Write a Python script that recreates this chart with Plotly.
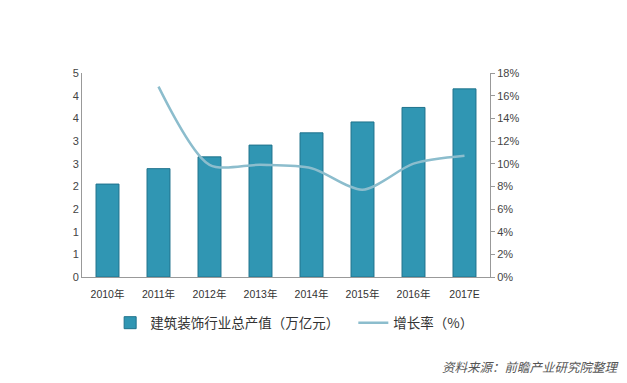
import plotly.graph_objects as go

categories = ["2010年", "2011年", "2012年", "2013年", "2014年", "2015年", "2016年", "2017E"]
output_values = [2.05, 2.39, 2.65, 2.91, 3.18, 3.42, 3.74, 4.15]
growth_categories = ["2011年", "2012年", "2013年", "2014年", "2015年", "2016年", "2017E"]
growth_values = [16.8, 9.9, 9.9, 9.6, 7.7, 10.0, 10.7]
left_tickvals = [0, 0.5, 1, 1.5, 2, 2.5, 3, 3.5, 4, 4.5]
left_ticktext = ["0", "1", "1", "2", "2", "3", "3", "4", "4", "5"]
right_tickvals = [0, 2, 4, 6, 8, 10, 12, 14, 16, 18]
right_ticktext = ["0%", "2%", "4%", "6%", "8%", "10%", "12%", "14%", "16%", "18%"]
bar_name = "建筑装饰行业总产值（万亿元）"
line_name = "增长率（%）"
source_text = "资料来源：前瞻产业研究院整理"

font_latin = "Liberation Sans, Noto Sans CJK SC, sans-serif"
font_cjk = "Noto Sans CJK SC, sans-serif"
legend_font = dict(family=font_cjk, size=13.5, color="#333")

fig = go.Figure()
fig.add_trace(go.Bar(
    x=categories, y=output_values, name=bar_name,
    marker=dict(color="#3096b3", line=dict(color="#1f728c", width=1)),
    yaxis="y", legend="legend",
))
fig.add_trace(go.Scatter(
    x=growth_categories, y=growth_values, name=line_name,
    mode="lines", line=dict(color="#8cbdcd", width=2.5, shape="spline", smoothing=0.8),
    yaxis="y2", legend="legend2",
))

# page body has an 8px margin, so the figure is sized/offset to compensate
fig.update_layout(
    width=619, height=367,
    margin=dict(l=74, r=137, t=65, b=98),
    paper_bgcolor="white", plot_bgcolor="white",
    bargap=0.55,
    showlegend=True,
    legend=dict(orientation="h", x=0.069, y=-0.225, xanchor="left", yanchor="middle",
                font=legend_font, itemwidth=30, bgcolor="rgba(0,0,0,0)"),
    legend2=dict(orientation="h", x=0.665, y=-0.225, xanchor="left", yanchor="middle",
                 font=legend_font, itemwidth=30, bgcolor="rgba(0,0,0,0)"),
    xaxis=dict(
        type="category", showline=True, linecolor="#999", linewidth=1,
        ticks="", showgrid=False, ticklabelstandoff=7,
        tickfont=dict(family=font_latin, size=10.5, color="#333"),
    ),
    yaxis=dict(
        range=[0, 4.5], tickvals=left_tickvals, ticktext=left_ticktext,
        showline=True, linecolor="#999", linewidth=1, showgrid=False, zeroline=False,
        ticks="", ticklen=0,
        tickfont=dict(family=font_latin, size=11, color="#444"),
    ),
    yaxis2=dict(
        range=[0, 18], tickvals=right_tickvals, ticktext=right_ticktext,
        overlaying="y", side="right",
        showline=True, linecolor="#999", linewidth=1, showgrid=False, zeroline=False,
        ticks="outside", ticklen=4, tickcolor="#999",
        tickfont=dict(family=font_latin, size=11, color="#444"),
    ),
    annotations=[dict(
        text="<i>" + source_text + "</i>", xref="paper", yref="paper",
        x=1.322, y=-0.441, xanchor="right", yanchor="middle", showarrow=False,
        font=dict(family=font_cjk, size=12.5, color="#555"),
    )],
)

fig.write_html("out.html")
